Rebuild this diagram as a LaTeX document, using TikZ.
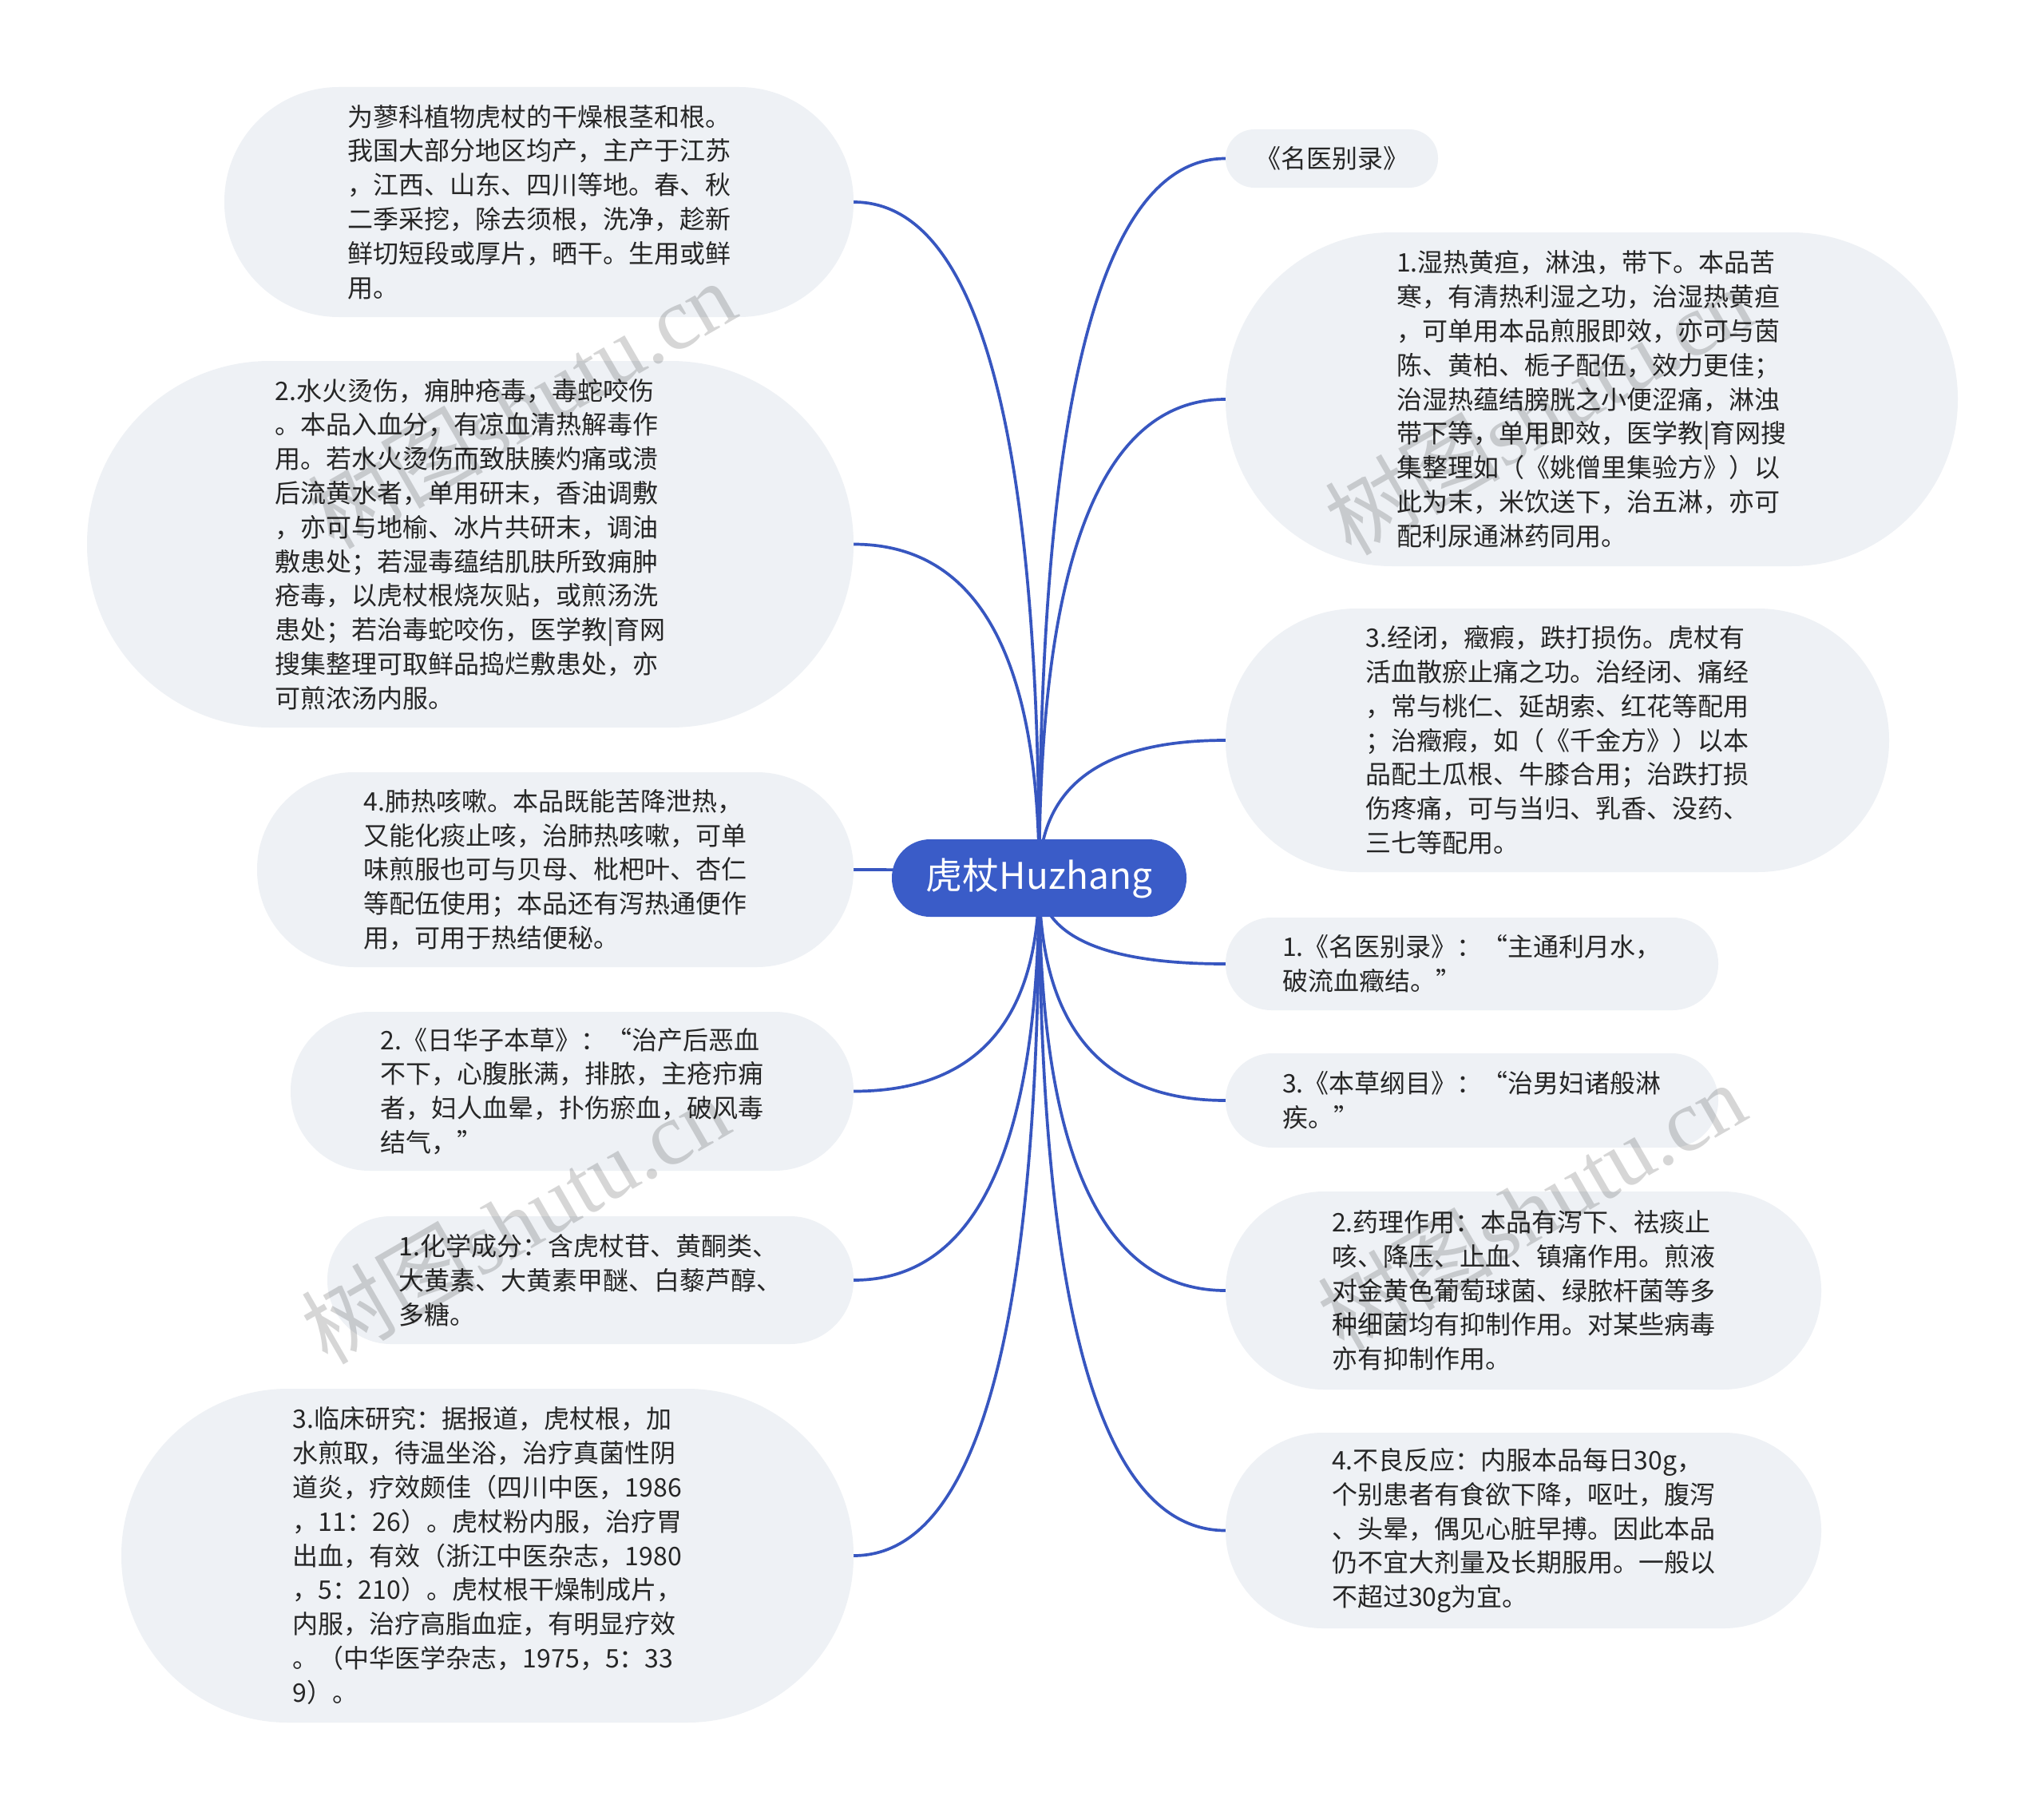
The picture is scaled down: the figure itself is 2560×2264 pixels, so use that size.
\documentclass[tikz,border=0pt]{standalone}
\usepackage{fontspec}
\setmainfont{Noto Sans CJK SC}
\newfontfamily\wmlatin{Liberation Serif}
\usetikzlibrary{calc,backgrounds}

\definecolor{boxfill}{RGB}{238,241,245}
\definecolor{rootblue}{RGB}{58,92,200}
\definecolor{linkblue}{RGB}{55,86,192}
\definecolor{txtcol}{RGB}{38,38,38}

\tikzset{
  topic/.style={rectangle, fill=boxfill, text=txtcol, align=left, inner sep=0pt,
    font=\fontsize{32}{42.8}\selectfont},
  rootnode/.style={rectangle, fill=rootblue, text=white, inner sep=0pt,
    minimum width=369pt, minimum height=97pt, rounded corners=48pt,
    font=\fontsize{46}{54}\selectfont},
  conn/.style={draw=linkblue, line width=3.7pt},
  wmark/.style={text=black, opacity=0.16, inner sep=0pt, rotate=30,
    font=\fontsize{110}{120}\selectfont},
}

\newcommand\linkto[2]{%
  \draw[conn] (#1.center) .. controls ($(#1.center)!0.6667!(#1.center|-#2)$)
     and ($(#2)!0.6667!(#1.center|-#2)$) .. (#2);}

\begin{document}
\begin{tikzpicture}[x=1pt,y=-1pt]
\useasboundingbox (0,0) rectangle (2560,2264);

% root
\node[rootnode] (C) at (1301.5,1099.5) {虎杖Huzhang};

% left side
\node[topic, minimum width=788pt, minimum height=288pt, rounded corners=143.5pt] (L1) at (675,253) {为蓼科植物虎杖的干燥根茎和根。\\我国大部分地区均产，主产于江苏\\，江西、山东、四川等地。春、秋\\二季采挖，除去须根，洗净，趁新\\鲜切短段或厚片，晒干。生用或鲜\\用。};

\node[topic, minimum width=960pt, minimum height=459pt, rounded corners=229pt] (L2) at (589,681.5) {2.水火烫伤，痈肿疮毒，毒蛇咬伤\\。本品入血分，有凉血清热解毒作\\用。若水火烫伤而致肤腠灼痛或溃\\后流黄水者，单用研末，香油调敷\\，亦可与地榆、冰片共研末，调油\\敷患处；若湿毒蕴结肌肤所致痈肿\\疮毒，以虎杖根烧灰贴，或煎汤洗\\患处；若治毒蛇咬伤，医学教|育网\\搜集整理可取鲜品捣烂敷患处，亦\\可煎浓汤内服。};

\node[topic, minimum width=747pt, minimum height=244pt, rounded corners=121.5pt] (L3) at (695.5,1089) {4.肺热咳嗽。本品既能苦降泄热，\\又能化痰止咳，治肺热咳嗽，可单\\味煎服也可与贝母、枇杷叶、杏仁\\等配伍使用；本品还有泻热通便作\\用，可用于热结便秘。};

\node[topic, minimum width=705pt, minimum height=199pt, rounded corners=99pt] (L4) at (716.5,1366.5) {2.《日华子本草》：“治产后恶血\\不下，心腹胀满，排脓，主疮疖痈\\者，妇人血晕，扑伤瘀血，破风毒\\结气，”};

\node[topic, minimum width=659pt, minimum height=160pt, rounded corners=79.5pt] (L5) at (739.5,1603) {1.化学成分：含虎杖苷、黄酮类、\\大黄素、大黄素甲醚、白藜芦醇、\\多糖。};

\node[topic, minimum width=917pt, minimum height=418pt, rounded corners=208.5pt] (L6) at (610.5,1948) {3.临床研究：据报道，虎杖根，加\\水煎取，待温坐浴，治疗真菌性阴\\道炎，疗效颇佳（四川中医，1986\\，11：26）。虎杖粉内服，治疗胃\\出血，有效（浙江中医杂志，1980\\，5：210）。虎杖根干燥制成片，\\内服，治疗高脂血症，有明显疗效\\。（中华医学杂志，1975，5：33\\9）。};

% right side
\node[topic, minimum width=266pt, minimum height=73pt, rounded corners=36pt] (R1) at (1668,198.5) {《名医别录》};

\node[topic, minimum width=917pt, minimum height=418pt, rounded corners=208.5pt] (R2) at (1993.5,500) {1.湿热黄疸，淋浊，带下。本品苦\\寒，有清热利湿之功，治湿热黄疸\\，可单用本品煎服即效，亦可与茵\\陈、黄柏、栀子配伍，效力更佳；\\治湿热蕴结膀胱之小便涩痛，淋浊\\带下等，单用即效，医学教|育网搜\\集整理如（《姚僧里集验方》）以\\此为末，米饮送下，治五淋，亦可\\配利尿通淋药同用。};

\node[topic, minimum width=831pt, minimum height=330pt, rounded corners=164.5pt] (R3) at (1950.5,927) {3.经闭，癥瘕，跌打损伤。虎杖有\\活血散瘀止痛之功。治经闭、痛经\\，常与桃仁、延胡索、红花等配用\\；治癥瘕，如（《千金方》）以本\\品配土瓜根、牛膝合用；治跌打损\\伤疼痛，可与当归、乳香、没药、\\三七等配用。};

\node[topic, minimum width=617pt, minimum height=116pt, rounded corners=57.5pt] (R4) at (1843.5,1207) {1.《名医别录》：“主通利月水，\\破流血癥结。”};

\node[topic, minimum width=617pt, minimum height=118pt, rounded corners=58.5pt] (R5) at (1843.5,1378) {3.《本草纲目》：“治男妇诸般淋\\疾。”};

\node[topic, minimum width=746pt, minimum height=248pt, rounded corners=123.5pt] (R6) at (1908,1616) {2.药理作用：本品有泻下、祛痰止\\咳、降压、止血、镇痛作用。煎液\\对金黄色葡萄球菌、绿脓杆菌等多\\种细菌均有抑制作用。对某些病毒\\亦有抑制作用。};

\node[topic, minimum width=746pt, minimum height=245pt, rounded corners=122pt] (R7) at (1908,1916.5) {4.不良反应：内服本品每日30g，\\个别患者有食欲下降，呕吐，腹泻\\、头晕，偶见心脏早搏。因此本品\\仍不宜大剂量及长期服用。一般以\\不超过30g为宜。};

% background and connectors
\begin{pgfonlayer}{background}
\fill[white] (0,0) rectangle (2560,2264);
\linkto{C}{L1.east}
\linkto{C}{L2.east}
\linkto{C}{L3.east}
\linkto{C}{L4.east}
\linkto{C}{L5.east}
\linkto{C}{L6.east}
\linkto{C}{R1.west}
\linkto{C}{R2.west}
\linkto{C}{R3.west}
\linkto{C}{R4.west}
\linkto{C}{R5.west}
\linkto{C}{R6.west}
\linkto{C}{R7.west}
\end{pgfonlayer}

% watermarks
\node[wmark] (W1) at (653,506) {树图{\wmlatin shutu.cn}};
\node[wmark] (W2) at (1927,514) {树图{\wmlatin shutu.cn}};
\node[wmark] (W3) at (645,1527) {树图{\wmlatin shutu.cn}};
\node[wmark] (W4) at (1918,1510) {树图{\wmlatin shutu.cn}};
\end{tikzpicture}
\end{document}
